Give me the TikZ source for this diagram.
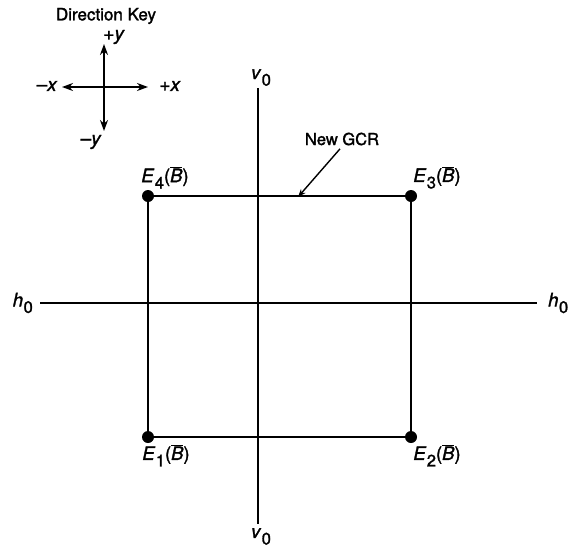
\documentclass[tikz,border=0pt]{standalone}
\usepackage{fontspec}
\setmainfont{TeX Gyre Heros}[FakeBold=1.6]
\usetikzlibrary{positioning, arrows.meta}

% italic letter with a large, lowered index
\newcommand{\sublbl}[2]{\textit{#1}\kern0.5pt\raisebox{-6.5pt}{\fontsize{16.5}{16}\selectfont #2}}
\newcommand{\Elbl}[1]{\sublbl{E}{#1}($\overline{\mbox{\textit{B}}}$)}

\begin{document}
\begin{tikzpicture}[
  x=1pt, y=-1pt,
  >={Stealth[length=8pt, width=6pt]},
  axisln/.style={line width=2pt},
  gcrln/.style={line width=2pt},
  corner/.style={circle, fill=black, inner sep=0pt, minimum size=12pt},
  lbl/.style={font=\fontsize{18.5}{18}\selectfont, inner sep=1pt},
  keylbl/.style={font=\fontsize{19}{19}\selectfont, inner sep=1pt},
  keyarr/.style={{Stealth[length=11pt, width=8pt]}-{Stealth[length=11pt, width=8pt]}, line width=1.8pt}
]
  \useasboundingbox (0,0) rectangle (572,552);

  % --- Direction key ---
  \node[font=\fontsize{17}{17}\selectfont] (keytitle) at (106,16) {Direction Key};
  \coordinate (kN) at (104,44);
  \coordinate (kS) at (104,131);
  \coordinate (kW) at (62,87);
  \coordinate (kE) at (148,87);
  \draw[keyarr] (kS) -- (kN);
  \draw[keyarr] (kW) -- (kE);
  \node[keylbl] (kpy) at (114,37) {+\textit{y}};
  \node[keylbl] (kmy) at (91,142) {--\textit{y}};
  \node[keylbl] (kmx) at (47,86) {--\textit{x}};
  \node[keylbl] (kpx) at (170,86) {+\textit{x}};

  % --- Axes v0 / h0 ---
  \coordinate (vtop) at (258,88);
  \coordinate (vbot) at (258,524);
  \coordinate (hlft) at (40,303);
  \coordinate (hrgt) at (537,303);
  \draw[axisln] (vtop) -- (vbot);
  \draw[axisln] (hlft) -- (hrgt);
  \node[lbl, above=1pt of vtop, xshift=3pt] (v0top) {\sublbl{v}{0}};
  \node[lbl, below=3pt of vbot, xshift=3pt] (v0bot) {\sublbl{v}{0}};
  \node[lbl, left=6pt of hlft] (h0lft) {\sublbl{h}{0}};
  \node[lbl, right=10pt of hrgt] (h0rgt) {\sublbl{h}{0}};

  % --- New GCR (square with corner points) ---
  \node[corner] (E1) at (148,437) {};
  \node[corner] (E2) at (411,437) {};
  \node[corner] (E3) at (411,196) {};
  \node[corner] (E4) at (148,196) {};
  \draw[gcrln] (E1.center) -- (E2.center) -- (E3.center) -- (E4.center) -- cycle;
  \node[lbl, above=0pt of E4, xshift=17pt] (lE4) {\Elbl{4}};
  \node[lbl, above=0pt of E3, xshift=26pt] (lE3) {\Elbl{3}};
  \node[lbl, below=0pt of E1, xshift=18pt] (lE1) {\Elbl{1}};
  \node[lbl, below=0pt of E2, xshift=26pt] (lE2) {\Elbl{2}};

  % --- Label with pointer ---
  \node[font=\fontsize{16.5}{16}\selectfont] (gcr) at (342,139) {New GCR};
  \coordinate (gcrtip) at (298,197);
  \draw[->, line width=1.4pt, >={Stealth[length=8pt, width=6pt]}]
    ([xshift=-2pt]gcr.south) -- (gcrtip);
\end{tikzpicture}
\end{document}
